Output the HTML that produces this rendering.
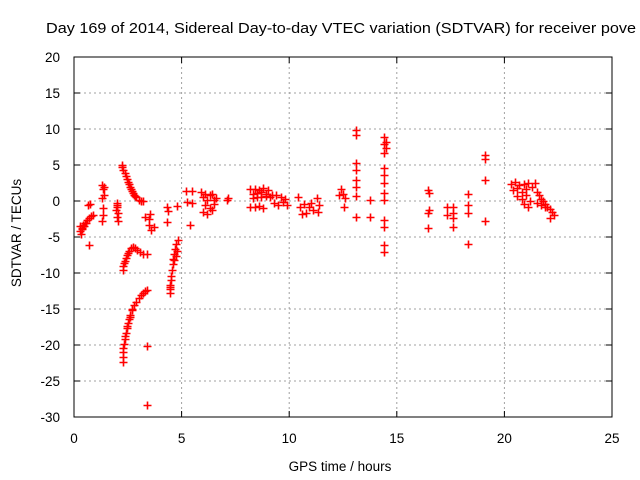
<!DOCTYPE html>
<html><head><meta charset="utf-8"><style>
html,body{margin:0;padding:0;background:#fff;overflow:hidden}
svg{display:block;font-family:"Liberation Sans",sans-serif}
</style></head><body>
<svg id="chart" width="640" height="480" viewBox="0 0 640 480" xmlns="http://www.w3.org/2000/svg">
<text x="46" y="33" font-size="15" fill="#000" textLength="590" lengthAdjust="spacingAndGlyphs">Day 169 of 2014, Sidereal Day-to-day VTEC variation (SDTVAR) for receiver pove</text>
<g id="grid"></g>
<g id="axes"></g>
<g id="pts"></g>
<text transform="translate(21,233) rotate(-90)" text-anchor="middle" font-size="13.5">SDTVAR / TECUs</text>
<text x="340" y="471" text-anchor="middle" font-size="13.5">GPS time / hours</text>
</svg>
<script>
const xTicks=[0,5,10,15,20,25];
const yTicks=[-30,-25,-20,-15,-10,-5,0,5,10,15,20];
const curveAT=[0.28,0.3,0.33,0.35,0.42,0.5,0.6,0.7,0.8,0.88,0.7,0.65,0.75,0.38,0.46,0.55];
const curveAV=[-4.2,-3.5,-4.6,-3.7,-3.3,-3.0,-2.7,-2.4,-2.1,-1.9,-6.1,-0.6,-0.4,-3.9,-3.5,-3.1];
const curveBT=[2.23,2.3,2.4,2.5,2.6,2.7,2.8,2.9,3.0,3.1,3.2,2.25,2.35,2.45,2.55,2.65,2.75,2.85];
const curveBV=[5.0,4.3,3.5,2.7,2.0,1.4,0.9,0.5,0.2,0.05,0.0,4.7,3.9,3.1,2.3,1.7,1.1,0.7];
const curveCT=[2.28,2.32,2.35,2.4,2.45,2.5,2.55,2.65,2.75,2.85,2.95,3.05,3.2,3.4,2.28];
const curveCV=[-9.0,-8.6,-8.3,-7.9,-7.5,-7.2,-6.9,-6.5,-6.4,-6.5,-6.8,-7.1,-7.3,-7.4,-9.6];
const curveDT=[2.26,2.28,2.28,2.3,2.33,2.36,2.4,2.45,2.5,2.55,2.62,2.7,2.8,2.9,3.0,3.1,3.2,3.3,3.4,2.38,2.48,2.58,2.68,3.4,3.4];
const curveDV=[-22.3,-21.6,-21.0,-20.4,-19.8,-19.1,-18.4,-17.6,-17.0,-16.4,-15.8,-15.2,-14.5,-14.0,-13.5,-13.1,-12.8,-12.5,-12.3,-18.8,-17.3,-16.1,-15.0,-20.2,-28.4];
const curveET=[4.45,4.46,4.47,4.5,4.52,4.55,4.58,4.62,4.66,4.7,4.76,4.83,4.65,4.72,4.8,4.45];
const curveEV=[-12.8,-12.2,-11.6,-11.0,-10.4,-9.6,-8.8,-8.0,-7.3,-6.6,-6.0,-5.4,-8.2,-7.6,-7.0,-12.0];
const blobsT=[1.3,1.35,1.4,1.3,1.38,1.35,1.35,1.32,1.98,2.02,2.05,1.95,2.0,2.05,2.0,3.3,3.5,3.6,3.5,3.7,3.55,4.3,4.35,4.3,4.8,5.2,5.25,5.5,5.5,5.4,5.9,6.0,6.2,6.4,6.6,6.1,6.3,6.5,6.0,6.2,6.4,7.1,7.15,6.1,6.3,6.5];
const blobsV=[2.2,1.7,2.0,0.4,0.8,-1.0,-2.0,-2.8,-0.3,-0.9,-1.6,-1.3,-2.2,-2.8,-0.6,-2.2,-3.3,-4.0,-2.5,-3.6,-1.8,-0.9,-1.4,-2.9,-0.7,1.4,-0.2,1.4,-0.3,-3.4,1.2,0.6,0.2,1.0,0.4,-0.6,-1.0,-0.4,-1.5,-1.8,-1.3,0.1,0.4,1.0,0.8,0.2];
const midT=[8.2,8.4,8.6,8.8,9.0,8.3,8.5,8.7,8.9,9.1,8.2,8.4,8.6,8.8,9.2,9.4,9.6,9.8,9.3,9.5,9.7,9.9,10.4,10.5,10.7,10.9,11.1,11.3,10.6,10.8,11.0,11.4,11.35,12.4,12.5,12.3,12.6,12.55,8.3,8.5,8.7,8.9];
const midV=[1.6,1.7,1.5,1.8,1.5,0.4,0.5,0.6,0.7,0.5,-0.8,-0.9,-0.7,-1.0,0.8,0.9,0.6,0.3,-0.3,-0.5,-0.1,-0.6,0.5,-0.8,-0.4,-0.9,-1.2,0.4,-1.8,-1.6,-0.3,-0.5,-1.5,1.7,1.0,0.9,0.4,-0.8,1.0,1.1,1.2,1.0];
const spikeT=[13.1,13.1,13.1,13.1,13.1,13.1,13.1,13.1,13.75,13.75,14.4,14.4,14.4,14.4,14.4,14.4,14.4,14.4,14.4,14.4,14.4,14.4,14.5,14.5];
const spikeV=[9.8,9.2,5.3,4.3,2.9,1.9,0.7,-2.2,0.1,-2.2,8.9,7.9,6.7,4.6,3.6,2.5,1.1,0.1,-2.6,-3.6,-6.1,-7.1,8.2,7.3];
const lateT=[16.45,16.5,16.45,16.5,16.45,17.35,17.35,17.6,17.6,17.6,17.6,18.3,18.3,18.3,18.3,19.1,19.1,19.1,19.1];
const lateV=[1.5,1.1,-1.7,-1.2,-3.8,-0.8,-1.9,-0.8,-1.7,-2.4,-3.6,1.0,-0.5,-1.7,-6.0,6.4,5.8,2.9,-2.8];
const endT=[20.3,20.5,20.7,20.9,21.1,21.3,20.4,20.6,20.8,21.0,20.6,20.8,21.0,21.2,20.9,21.1,21.4,21.5,21.6,21.7,21.8,21.9,22.0,22.1,22.2,22.3,21.5,21.7,21.9,22.1];
const endV=[2.3,2.6,2.2,2.4,2.5,2.0,1.5,1.8,1.2,1.6,0.7,0.3,0.9,0.0,-0.4,-0.9,2.5,1.3,0.8,0.3,0.0,-0.4,-0.8,-1.1,-1.5,-1.9,-0.3,-0.5,-0.9,-2.3];
const allT=[].concat(curveAT,curveBT,curveCT,curveDT,curveET,blobsT,midT,spikeT,lateT,endT);
const allV=[].concat(curveAV,curveBV,curveCV,curveDV,curveEV,blobsV,midV,spikeV,lateV,endV);
const L=74,R=612,T=57,B=417;
function xs(t){return L+(t-0)/25*(R-L);}
function ys(v){return T+(20-v)/50*(B-T);}
const NS="http://www.w3.org/2000/svg";
function mk(tag,attrs,parent){const e=document.createElementNS(NS,tag);for(const k in attrs)e.setAttribute(k,attrs[k]);parent.appendChild(e);return e;}
const grid=document.getElementById('grid'),axes=document.getElementById('axes'),pts=document.getElementById('pts');
xTicks.forEach(t=>{const x=xs(t);
 if(t>0&&t<25){const g=mk('line',{x1:x,x2:x,y1:T,y2:B,stroke:'#a0a0a0','stroke-dasharray':'2,3','stroke-width':1},grid);}
 mk('line',{x1:x,x2:x,y1:B,y2:B-6,stroke:'#000'},axes);mk('line',{x1:x,x2:x,y1:T,y2:T+6,stroke:'#000'},axes);
 const tx=mk('text',{x:x,y:B+26,'text-anchor':'middle','font-size':13.5},axes);tx.textContent=t;
 });
yTicks.forEach(v=>{const y=ys(v);
 if(v>-30&&v<20){const g=mk('line',{x1:L,x2:R,y1:y,y2:y,stroke:'#a0a0a0','stroke-dasharray':'2,3','stroke-width':1},grid);}
 mk('line',{x1:L,x2:L+6,y1:y,y2:y,stroke:'#000'},axes);mk('line',{x1:R,x2:R-6,y1:y,y2:y,stroke:'#000'},axes);
 const tx=mk('text',{x:L-14,y:y+5,'text-anchor':'end','font-size':13.5},axes);tx.textContent=v;
 });
const border=mk('rect',{x:L,y:T,width:R-L,height:B-T,fill:'none',stroke:'#000'},axes);

for(let i=0;i<allT.length;i++){const x=Math.round(xs(allT[i]))+0.5,y=Math.round(ys(allV[i]))+0.5;
 const p=mk('path',{d:`M${x-4} ${y}H${x+4}M${x} ${y-4}V${y+4}`,stroke:'#f00','stroke-width':1.6,fill:'none'},pts);
 
 }
</script>
</body></html>
